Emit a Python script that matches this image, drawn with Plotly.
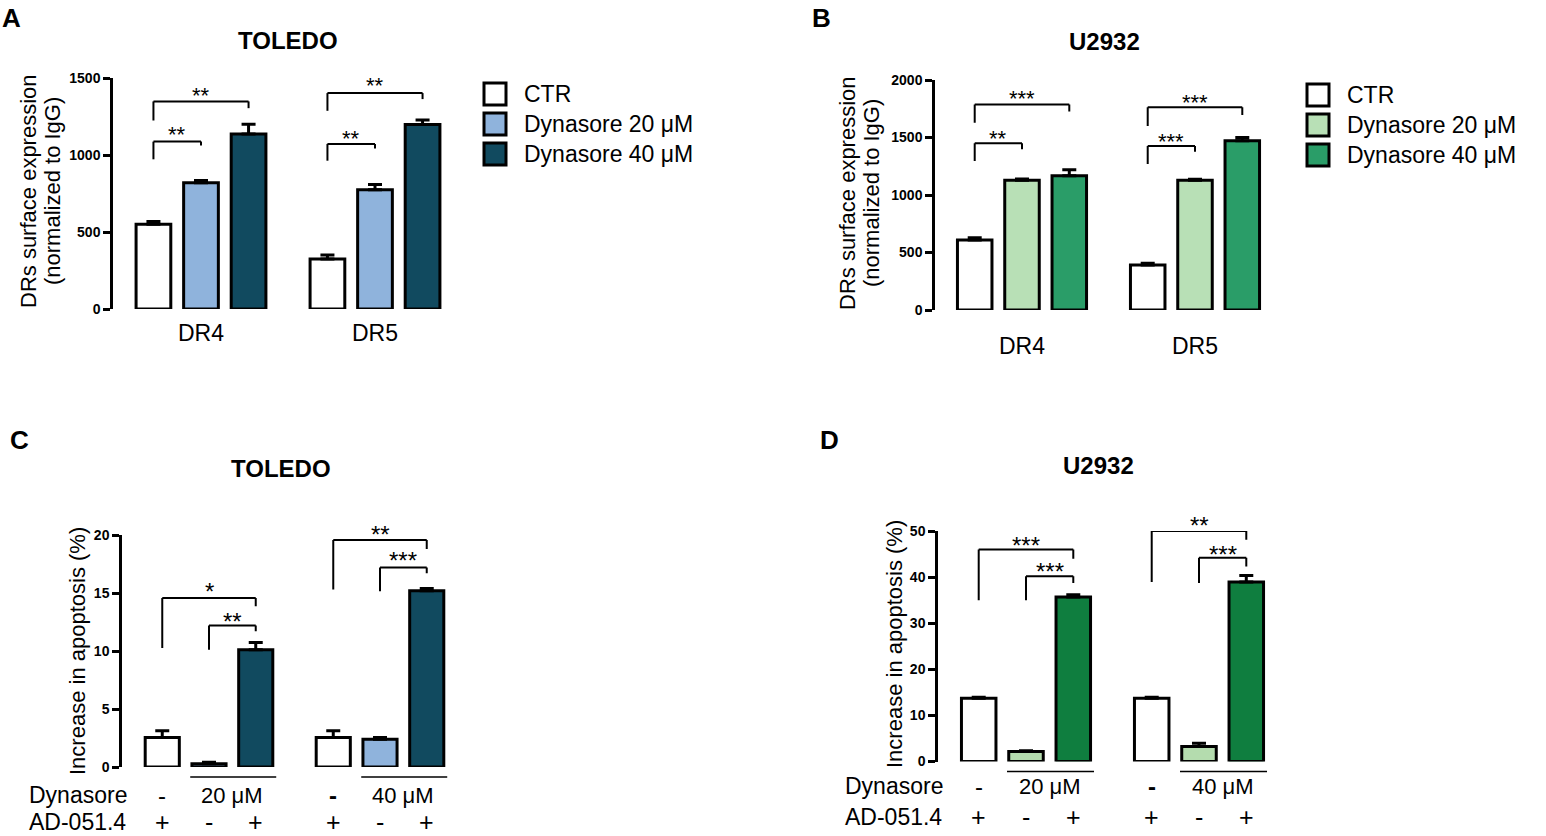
import plotly.graph_objects as go

# ---------------- data ----------------
series_names = ["CTR", "Dynasore 20 μM", "Dynasore 40 μM"]
dr_categories = ["DR4", "DR5"]

# Panel A - TOLEDO surface expression
a_ctr = [550, 324]
a_ctr_err = [18, 26]
a_d20 = [820, 774]
a_d20_err = [14, 35]
a_d40 = [1137, 1198]
a_d40_err = [62, 30]

# Panel B - U2932 surface expression
b_ctr = [609, 391]
b_ctr_err = [20, 16]
b_d20 = [1128, 1128]
b_d20_err = [12, 8]
b_d40 = [1168, 1472]
b_d40_err = [52, 27]

# Panels C/D - apoptosis, groups by Dynasore dose
apo_groups = ["20 μM", "40 μM"]
c_ctr = [2.54, 2.54]
c_ctr_err = [0.58, 0.58]
c_dyn = [0.27, 2.4]
c_dyn_err = [0.13, 0.15]
c_combo = [10.1, 15.2]
c_combo_err = [0.64, 0.18]

d_ctr = [13.7, 13.7]
d_ctr_err = [0.25, 0.25]
d_dyn = [2.16, 3.25]
d_dyn_err = [0.15, 0.7]
d_combo = [35.7, 38.96]
d_combo_err = [0.45, 1.4]

dyn_ctr_label = "-"
ad_row = ["+", "-", "+"]

a_ticks = [0, 500, 1000, 1500]
b_ticks = [0, 500, 1000, 1500, 2000]
c_ticks = [0, 5, 10, 15, 20]
d_ticks = [0, 10, 20, 30, 40, 50]

# significance brackets: (group, from bar, to bar, bar y, left end y, right end y, label, star y)
a_brackets = [
    (0, 0, 1, 1087, 972, 1061, "**", 1163),
    (0, 0, 2, 1348, 1224, 1304, "**", 1420),
    (1, 0, 1, 1072, 963, 1043, "**", 1141),
    (1, 0, 2, 1402, 1287, 1363, "**", 1483),
]
b_brackets = [
    (0, 0, 1, 1449, 1296, 1397, "**", 1536),
    (0, 0, 2, 1788, 1629, 1725, "***", 1884),
    (1, 0, 1, 1426, 1270, 1377, "***", 1513),
    (1, 0, 2, 1762, 1600, 1696, "***", 1849),
]
c_brackets = [
    (0, 0, 2, 14.57, 10.25, 13.85, "*", 15.6),
    (0, 1, 2, 12.2, 10.1, 11.7, "**", 13.0),
    (1, 0, 2, 19.57, 15.3, 18.8, "**", 20.5),
    (1, 1, 2, 17.2, 15.15, 16.7, "***", 18.2),
]
d_brackets = [
    (0, 0, 2, 45.96, 35.0, 44.0, "***", 48.0),
    (0, 1, 2, 40.2, 35.0, 38.7, "***", 42.2),
    (1, 0, 2, 50.0, 38.96, 48.1, "**", 52.2),
    (1, 1, 2, 44.2, 38.7, 42.3, "***", 46.0),
]

# ---------------- styles ----------------
W, H = 1546, 836
FONT = "Liberation Sans"
BLUE_L = "#8fb3dc"
BLUE_D = "#114a5f"
GREEN_L_B = "#b8e0b6"
GREEN_D_B = "#2a9d68"
GREEN_L_D = "#b4dcae"
GREEN_D_D = "#0f7e3f"
BARGAP = 0.18
BARGROUPGAP = 0.27
NSER = 3
SLOT = (1 - BARGAP) / NSER
BARW = SLOT * (1 - BARGROUPGAP)


def px(x):
    return x / W


def py(y):
    return 1 - y / H


def bar_x(group, i):
    return group - (1 - BARGAP) / 2 + (i + 0.5) * SLOT


def txt(size, bold=False):
    d = dict(family=FONT, size=size, color="black")
    if bold:
        d["weight"] = "bold"
    return d


fig = go.Figure()


def add_bars(xs, ys, errs, color, name, xa, ya):
    fig.add_trace(go.Bar(
        x=xs, y=ys, name=name, xaxis=xa, yaxis=ya, showlegend=False,
        marker=dict(color=color, line=dict(color="black", width=3)),
        error_y=dict(type="data", array=errs, arrayminus=[0] * len(errs),
                     symmetric=False, color="black", thickness=3, width=7),
    ))


add_bars(dr_categories, a_ctr, a_ctr_err, "white", series_names[0], "x", "y")
add_bars(dr_categories, a_d20, a_d20_err, BLUE_L, series_names[1], "x", "y")
add_bars(dr_categories, a_d40, a_d40_err, BLUE_D, series_names[2], "x", "y")

add_bars(dr_categories, b_ctr, b_ctr_err, "white", series_names[0], "x2", "y2")
add_bars(dr_categories, b_d20, b_d20_err, GREEN_L_B, series_names[1], "x2", "y2")
add_bars(dr_categories, b_d40, b_d40_err, GREEN_D_B, series_names[2], "x2", "y2")

add_bars(apo_groups, c_ctr, c_ctr_err, "white", "AD-051.4", "x3", "y3")
add_bars(apo_groups, c_dyn, c_dyn_err, BLUE_L, "Dynasore", "x3", "y3")
add_bars(apo_groups, c_combo, c_combo_err, BLUE_D, "Dynasore + AD-051.4", "x3", "y3")

add_bars(apo_groups, d_ctr, d_ctr_err, "white", "AD-051.4", "x4", "y4")
add_bars(apo_groups, d_dyn, d_dyn_err, GREEN_L_D, "Dynasore", "x4", "y4")
add_bars(apo_groups, d_combo, d_combo_err, GREEN_D_D, "Dynasore + AD-051.4", "x4", "y4")

# ---------------- axes ----------------
yax_common = dict(showline=True, linecolor="black", linewidth=2.5, ticks="outside",
                  ticklen=7, tickwidth=2.5, tickcolor="black", showgrid=False,
                  zeroline=False, automargin=False, tickfont=txt(14, True))
xax_common = dict(type="category", showline=False, ticks="", showgrid=False, zeroline=False,
                  automargin=False, tickfont=txt(23))

A_axis, A_g0 = 113, 201
B_axis, B_g0 = 935, 1022
C_axis, C_g0 = 122, 209
D_axis, D_g0 = 938, 1026


def xdom(axis_px, g0_px, unit):
    left = -(g0_px - axis_px) / unit
    right_px = g0_px + 1.5 * unit
    return [px(axis_px), px(right_px)], [left, 1.5]


a_dom, a_rng = xdom(A_axis, A_g0, 174)
b_dom, b_rng = xdom(B_axis, B_g0, 173)
c_dom, c_rng = xdom(C_axis, C_g0, 171)
d_dom, d_rng = xdom(D_axis, D_g0, 173)

Y_MAX = {"y": 1500, "y2": 2000, "y3": 20, "y4": 50}

fig.update_layout(
    xaxis=dict(**xax_common, domain=a_dom, range=a_rng, anchor="y", ticklabelstandoff=8),
    yaxis=dict(**yax_common, domain=[py(309), py(78)], range=[0, Y_MAX["y"]], tickvals=a_ticks, anchor="x"),
    xaxis2=dict(**xax_common, domain=b_dom, range=b_rng, anchor="y2", ticklabelstandoff=20),
    yaxis2=dict(**yax_common, domain=[py(310), py(80)], range=[0, Y_MAX["y2"]], tickvals=b_ticks, anchor="x2"),
    xaxis3=dict(**xax_common, domain=c_dom, range=c_rng, anchor="y3", showticklabels=False),
    yaxis3=dict(**yax_common, domain=[py(767), py(535)], range=[0, Y_MAX["y3"]], tickvals=c_ticks, anchor="x3"),
    xaxis4=dict(**xax_common, domain=d_dom, range=d_rng, anchor="y4", showticklabels=False),
    yaxis4=dict(**yax_common, domain=[py(761.5), py(531)], range=[0, Y_MAX["y4"]], tickvals=d_ticks, anchor="x4"),
    barmode="group", bargap=BARGAP, bargroupgap=BARGROUPGAP,
    width=W, height=H, autosize=False,
    margin=dict(l=0, r=0, t=0, b=0, pad=0, autoexpand=False),
    paper_bgcolor="white", plot_bgcolor="white",
    showlegend=False,
    font=dict(family=FONT, color="black"),
)

shapes = []
annotations = []


def note(x, y, text, font, xref="paper", yref="paper", xanchor="center", yanchor="middle", **kw):
    annotations.append(dict(x=x, y=y, xref=xref, yref=yref, text=text, showarrow=False,
                            xanchor=xanchor, yanchor=yanchor, font=font, **kw))


# brackets
for brackets, xa, ya, star_size in [(a_brackets, "x", "y", 22), (b_brackets, "x2", "y2", 22),
                                    (c_brackets, "x3", "y3", 24), (d_brackets, "x4", "y4", 24)]:
    for g, i0, i1, yb, yl, yr, lab, ys in brackets:
        x0 = bar_x(g, i0)
        x1 = bar_x(g, i1)
        ln = dict(color="black", width=2)
        shapes.append(dict(type="line", xref=xa, yref=ya, x0=x0, x1=x0, y0=yl, y1=yb, line=ln))
        shapes.append(dict(type="line", xref=xa, yref=ya, x0=x0, x1=x1, y0=yb, y1=yb, line=ln))
        shapes.append(dict(type="line", xref=xa, yref=ya, x0=x1, x1=x1, y0=yb, y1=yr, line=ln))
        note((x0 + x1) / 2, ys / Y_MAX[ya], lab, txt(star_size), xref=xa, yref=ya + " domain", yshift=-5)

# row labels for C and D
for xa, ya, dyn_y, ad_y, left_px in [("x3", "y3", 795, 822, 27), ("x4", "y4", 786, 817, 843)]:
    note(px(left_px), py(dyn_y), "Dynasore", txt(23), xanchor="left")
    note(px(left_px), py(ad_y), "AD-051.4", txt(23), xanchor="left")
    for g, dose in enumerate(apo_groups):
        lab0 = dyn_ctr_label if g == 0 else "<b>" + dyn_ctr_label + "</b>"
        note(bar_x(g, 0), py(dyn_y), lab0, txt(24), xref=xa)
        note((bar_x(g, 1) + bar_x(g, 2)) / 2, py(dyn_y), dose, txt(22), xref=xa)
        shapes.append(dict(type="line", xref=xa, yref=ya + " domain",
                           x0=bar_x(g, 1) - BARW / 2 - 0.01, x1=bar_x(g, 2) + BARW / 2 + 0.02,
                           y0=-0.043, y1=-0.043, line=dict(color="black", width=1.5)))
        for i, s in enumerate(ad_row):
            note(bar_x(g, i), py(ad_y), s, txt(25), xref=xa)

# y-axis titles
for lines, xs_px, yc in [(["DRs surface expression", "(normalized to IgG)"], [28, 52], 191),
                         (["DRs surface expression", "(normalized to IgG)"], [847, 871], 193),
                         (["Increase in apoptosis (%)"], [77], 651),
                         (["Increase in apoptosis (%)"], [894], 644)]:
    for t, xp in zip(lines, xs_px):
        note(px(xp), py(yc), t, txt(22), textangle=-90)

# panel titles and letters
for t, xp, yp in [("TOLEDO", 288, 40), ("U2932", 1104, 42), ("TOLEDO", 281, 468), ("U2932", 1098, 465)]:
    note(px(xp), py(yp), "<b>" + t + "</b>", txt(24))
for t, xp, yp in [("A", 0, 18), ("B", 810, 18), ("C", 8, 440), ("D", 818, 440)]:
    note(px(xp), py(yp), "<b>" + t + "</b>", txt(26), xanchor="left")

# legends with large swatches
for colors, box_x, ys in [(["white", BLUE_L, BLUE_D], 484, [94, 124, 154]),
                          (["white", GREEN_L_B, GREEN_D_B], 1307, [95, 125, 155])]:
    for name, col, yc in zip(series_names, colors, ys):
        shapes.append(dict(type="rect", xref="paper", yref="paper", x0=px(box_x), x1=px(box_x + 22),
                           y0=py(yc + 11), y1=py(yc - 11), fillcolor=col,
                           line=dict(color="black", width=3)))
        note(px(box_x + 38), py(yc), name, txt(23), xanchor="left")

fig.update_layout(shapes=shapes, annotations=annotations)
fig.write_html("out.html", config={"displayModeBar": False},
               post_script="document.body.style.margin='0px';")
